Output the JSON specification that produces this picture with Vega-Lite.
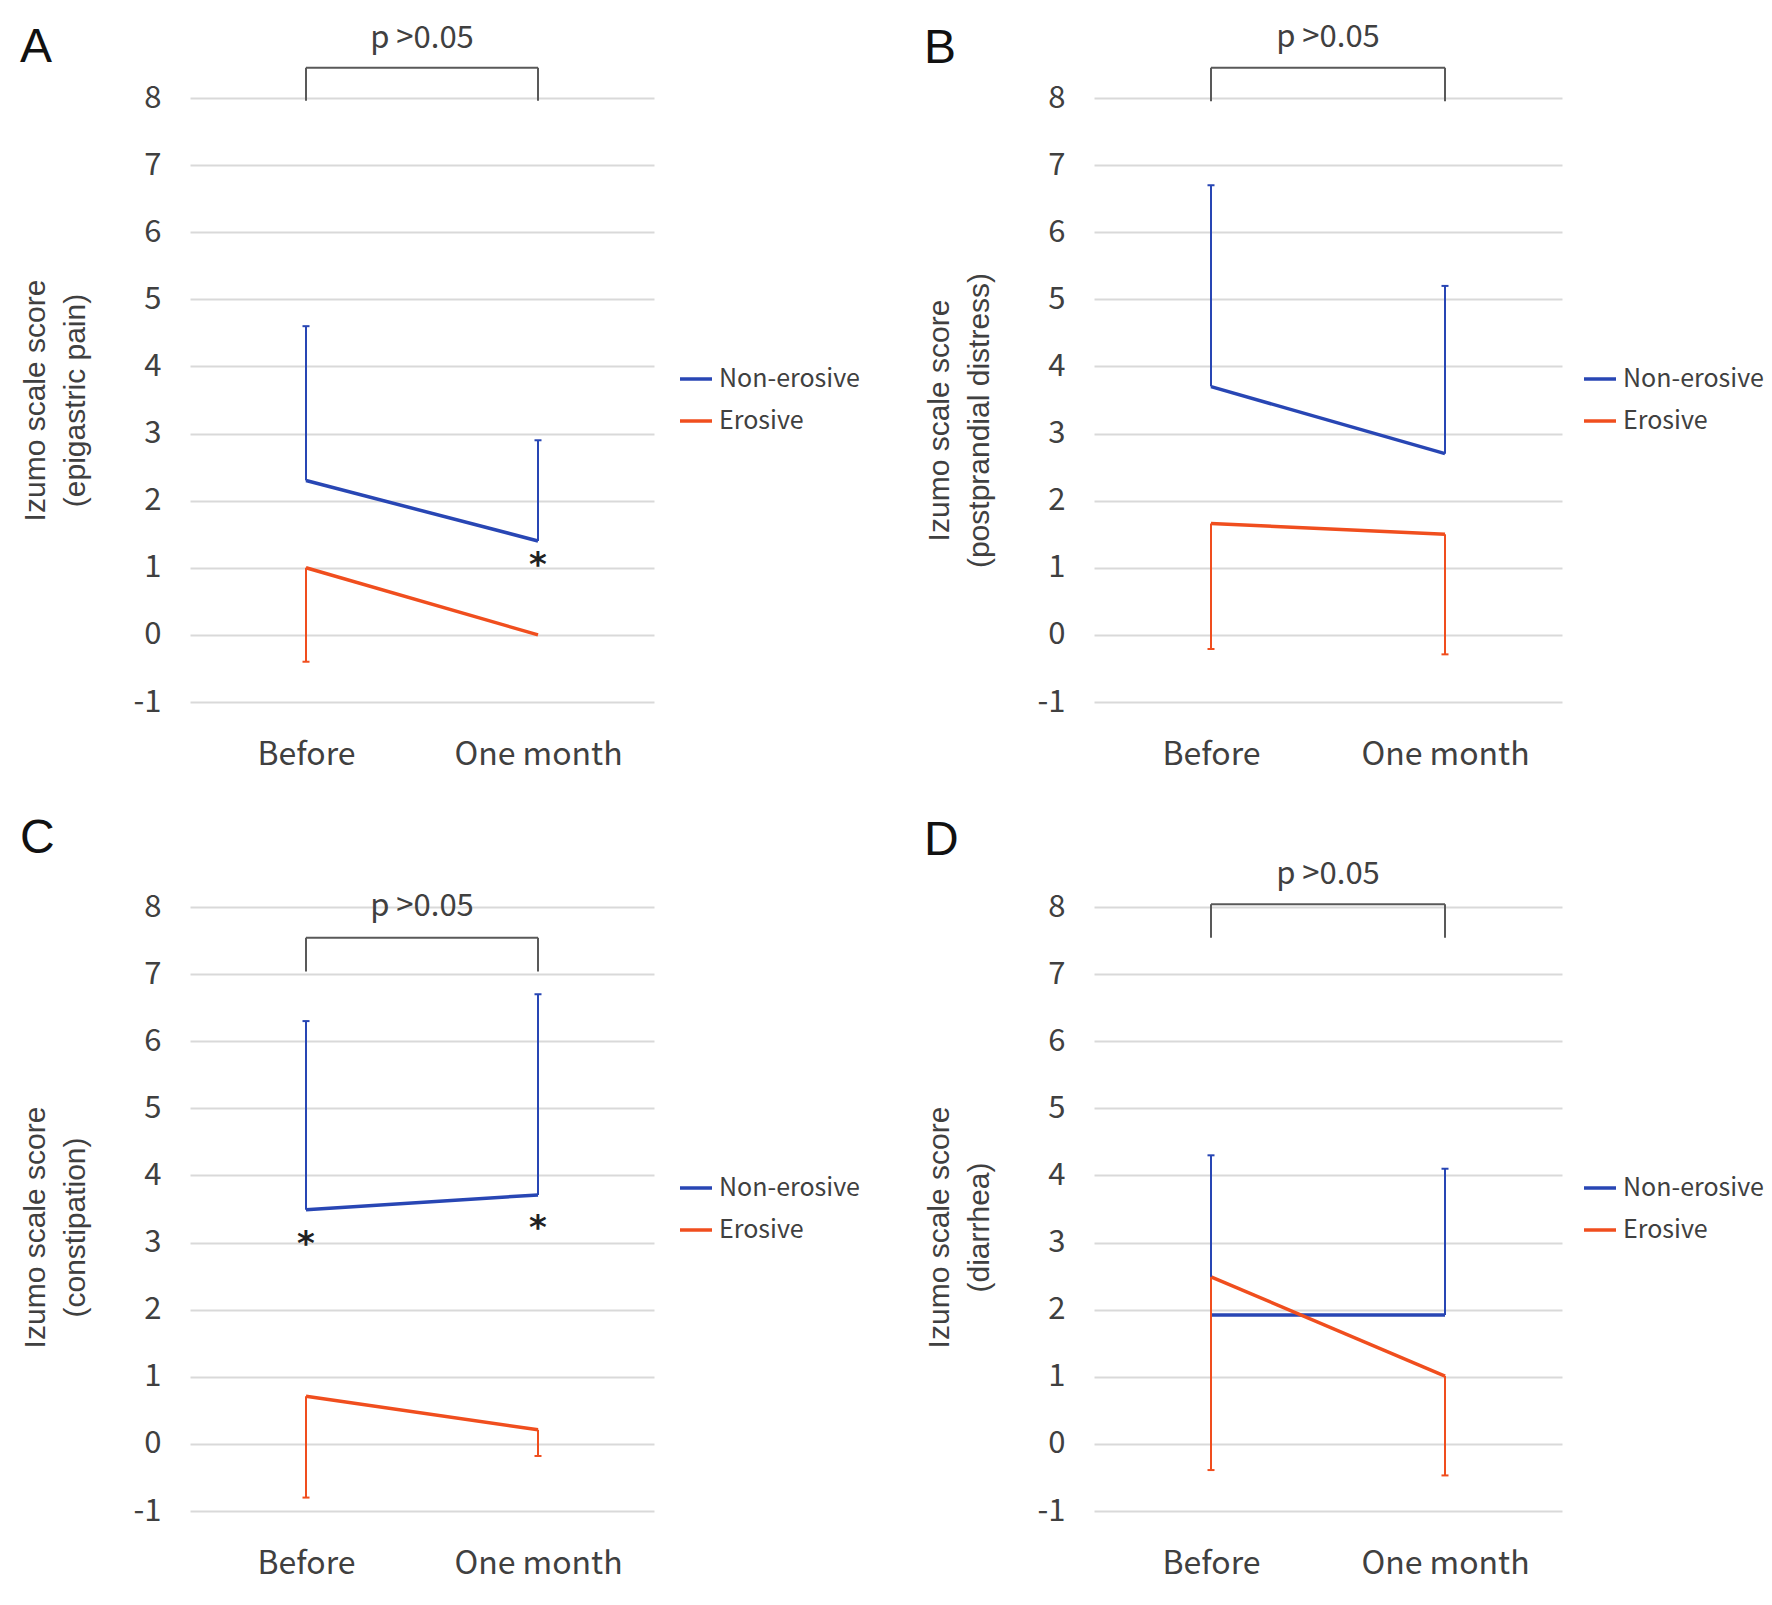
{
  "$schema": "https://vega.github.io/schema/vega-lite/v6.json",
  "background": "white",
  "padding": {"left": 20, "top": 21, "right": 5, "bottom": 5},
  "columns": 2,
  "bounds": "flush",
  "spacing": {"row": 205, "column": 440},
  "resolve": {
    "scale": {"color": "independent", "x": "independent", "y": "independent"},
    "legend": {"color": "independent"}
  },
  "config": {
    "view": {"stroke": null},
    "axisY": {
      "grid": true, "gridColor": "#D9D9D9", "gridWidth": 2,
      "domain": false, "ticks": false,
      "labelFont": "Noto Sans CJK JP", "labelFontSize": 31, "labelColor": "#404040", "labelPadding": 29,
      "titleFont": "Liberation Sans", "titleFontSize": 30, "titleFontWeight": "normal", "titleColor": "#404040",
      "titleLineHeight": 40, "titleX": -146, "titleBaseline": "alphabetic", "titleAngle": -90, "titleAlign": "center"
    },
    "axisX": {
      "domain": false, "ticks": false, "grid": false, "labelAngle": 0,
      "labelFont": "Noto Sans CJK JP", "labelFontSize": 32, "labelColor": "#404040", "labelPadding": 37
    },
    "legend": {
      "orient": "none", "legendX": 488, "legendY": 263, "padding": 0,
      "symbolType": "stroke", "symbolSize": 1024, "symbolStrokeWidth": 3.5, "symbolOpacity": 1,
      "labelFont": "Noto Sans CJK JP", "labelFontSize": 25, "labelColor": "#404040", "labelOffset": 5, "rowPadding": 11
    },
    "title": {"anchor": "start", "frame": "bounds", "font": "Liberation Sans", "fontSize": 48, "fontWeight": "normal", "color": "#111111", "baseline": "alphabetic"}
  },
  "concat": [
    {
      "width": 464, "height": 604,
      "title": {"text": "A", "offset": 17, "dy": 66},
      "data": {"values": [
        {"group": "Non-erosive", "time": "Before", "mean": 2.3, "bar_end": 4.6},
        {"group": "Non-erosive", "time": "One month", "mean": 1.4, "bar_end": 2.9},
        {"group": "Erosive", "time": "Before", "mean": 1.0, "bar_end": -0.4},
        {"group": "Erosive", "time": "One month", "mean": 0.0, "bar_end": null}
      ]},
      "encoding": {
        "x": {"field": "time", "type": "nominal", "scale": {"type": "point", "domain": ["Before", "Before vs One month", "One month"], "padding": 1}, "axis": {"values": ["Before", "One month"], "title": null}},
        "color": {"field": "group", "type": "nominal", "scale": {"domain": ["Non-erosive", "Erosive"], "range": ["#2846B4", "#F04E1E"]}, "legend": {"title": null, "symbolStrokeWidth": 3.5, "symbolOpacity": 1}}
      },
      "layer": [
        {"mark": {"type": "line", "strokeWidth": 3.5},
         "encoding": {"y": {"field": "mean", "type": "quantitative", "scale": {"domain": [-1, 8], "nice": false, "zero": false}, "axis": {"values": [-1, 0, 1, 2, 3, 4, 5, 6, 7, 8], "labelExpr": "'' + datum.value", "title": ["Izumo scale score", "(epigastric pain)"], "titleY": 302}}}},
        {"transform": [{"filter": "isValid(datum.bar_end)"}], "mark": {"type": "rule", "strokeWidth": 2},
         "encoding": {"y": {"field": "mean", "type": "quantitative"}, "y2": {"field": "bar_end"}}},
        {"transform": [{"filter": "isValid(datum.bar_end)"}], "mark": {"type": "tick", "thickness": 2, "size": 7, "opacity": 1},
         "encoding": {"y": {"field": "bar_end", "type": "quantitative"}}},
        {"data": {"values": [{"time": "Before", "time_end": "One month", "mid": "Before vs One month", "bracket_top": 8.45, "bracket_bottom": 7.96, "text_y": 8.75, "label": "p >0.05"}]},
         "layer": [
           {"mark": {"type": "rule", "strokeWidth": 2}, "encoding": {"x": {"field": "time", "type": "nominal"}, "x2": {"field": "time_end"}, "y": {"field": "bracket_top", "type": "quantitative"}, "color": {"value": "#595959"}}},
           {"mark": {"type": "rule", "strokeWidth": 2}, "encoding": {"x": {"field": "time", "type": "nominal"}, "y": {"field": "bracket_top", "type": "quantitative"}, "y2": {"field": "bracket_bottom"}, "color": {"value": "#595959"}}},
           {"mark": {"type": "rule", "strokeWidth": 2}, "encoding": {"x": {"field": "time_end", "type": "nominal"}, "y": {"field": "bracket_top", "type": "quantitative"}, "y2": {"field": "bracket_bottom"}, "color": {"value": "#595959"}}},
           {"mark": {"type": "text", "font": "Noto Sans CJK JP", "fontSize": 31, "baseline": "alphabetic", "align": "center"}, "encoding": {"x": {"field": "mid", "type": "nominal"}, "y": {"field": "text_y", "type": "quantitative"}, "text": {"field": "label"}, "color": {"value": "#404040"}}}
         ]},
        {"data": {"values": [{"time": "One month", "star_y": 0.88, "sig": "*"}]},
         "mark": {"type": "text", "font": "DejaVu Sans", "fontSize": 34, "fontWeight": "bold", "baseline": "alphabetic", "align": "center"},
         "encoding": {"x": {"field": "time", "type": "nominal"}, "y": {"field": "star_y", "type": "quantitative"}, "text": {"field": "sig"}, "color": {"value": "#222222"}}}
      ]
    },
    {
      "width": 468, "height": 604,
      "title": {"text": "B", "offset": 9, "dy": 60},
      "data": {"values": [
        {"group": "Non-erosive", "time": "Before", "mean": 3.7, "bar_end": 6.7},
        {"group": "Non-erosive", "time": "One month", "mean": 2.7, "bar_end": 5.2},
        {"group": "Erosive", "time": "Before", "mean": 1.66, "bar_end": -0.21},
        {"group": "Erosive", "time": "One month", "mean": 1.5, "bar_end": -0.29}
      ]},
      "encoding": {
        "x": {"field": "time", "type": "nominal", "scale": {"type": "point", "domain": ["Before", "Before vs One month", "One month"], "padding": 1}, "axis": {"values": ["Before", "One month"], "title": null}},
        "color": {"field": "group", "type": "nominal", "scale": {"domain": ["Non-erosive", "Erosive"], "range": ["#2846B4", "#F04E1E"]}, "legend": {"title": null, "symbolStrokeWidth": 3.5, "symbolOpacity": 1}}
      },
      "layer": [
        {"mark": {"type": "line", "strokeWidth": 3.5},
         "encoding": {"y": {"field": "mean", "type": "quantitative", "scale": {"domain": [-1, 8], "nice": false, "zero": false}, "axis": {"values": [-1, 0, 1, 2, 3, 4, 5, 6, 7, 8], "labelExpr": "'' + datum.value", "title": ["Izumo scale score", "(postprandial distress)"], "titleY": 322}}}},
        {"transform": [{"filter": "isValid(datum.bar_end)"}], "mark": {"type": "rule", "strokeWidth": 2},
         "encoding": {"y": {"field": "mean", "type": "quantitative"}, "y2": {"field": "bar_end"}}},
        {"transform": [{"filter": "isValid(datum.bar_end)"}], "mark": {"type": "tick", "thickness": 2, "size": 7, "opacity": 1},
         "encoding": {"y": {"field": "bar_end", "type": "quantitative"}}},
        {"data": {"values": [{"time": "Before", "time_end": "One month", "mid": "Before vs One month", "bracket_top": 8.45, "bracket_bottom": 7.95, "text_y": 8.76, "label": "p >0.05"}]},
         "layer": [
           {"mark": {"type": "rule", "strokeWidth": 2}, "encoding": {"x": {"field": "time", "type": "nominal"}, "x2": {"field": "time_end"}, "y": {"field": "bracket_top", "type": "quantitative"}, "color": {"value": "#595959"}}},
           {"mark": {"type": "rule", "strokeWidth": 2}, "encoding": {"x": {"field": "time", "type": "nominal"}, "y": {"field": "bracket_top", "type": "quantitative"}, "y2": {"field": "bracket_bottom"}, "color": {"value": "#595959"}}},
           {"mark": {"type": "rule", "strokeWidth": 2}, "encoding": {"x": {"field": "time_end", "type": "nominal"}, "y": {"field": "bracket_top", "type": "quantitative"}, "y2": {"field": "bracket_bottom"}, "color": {"value": "#595959"}}},
           {"mark": {"type": "text", "font": "Noto Sans CJK JP", "fontSize": 31, "baseline": "alphabetic", "align": "center"}, "encoding": {"x": {"field": "mid", "type": "nominal"}, "y": {"field": "text_y", "type": "quantitative"}, "text": {"field": "label"}, "color": {"value": "#404040"}}}
         ]}
      ]
    },
    {
      "width": 464, "height": 604,
      "title": {"text": "C", "offset": 32, "dy": 4},
      "data": {"values": [
        {"group": "Non-erosive", "time": "Before", "mean": 3.49, "bar_end": 6.3},
        {"group": "Non-erosive", "time": "One month", "mean": 3.71, "bar_end": 6.7},
        {"group": "Erosive", "time": "Before", "mean": 0.71, "bar_end": -0.8},
        {"group": "Erosive", "time": "One month", "mean": 0.21, "bar_end": -0.18}
      ]},
      "encoding": {
        "x": {"field": "time", "type": "nominal", "scale": {"type": "point", "domain": ["Before", "Before vs One month", "One month"], "padding": 1}, "axis": {"values": ["Before", "One month"], "title": null}},
        "color": {"field": "group", "type": "nominal", "scale": {"domain": ["Non-erosive", "Erosive"], "range": ["#2846B4", "#F04E1E"]}, "legend": {"title": null, "symbolStrokeWidth": 3.5, "symbolOpacity": 1}}
      },
      "layer": [
        {"mark": {"type": "line", "strokeWidth": 3.5},
         "encoding": {"y": {"field": "mean", "type": "quantitative", "scale": {"domain": [-1, 8], "nice": false, "zero": false}, "axis": {"values": [-1, 0, 1, 2, 3, 4, 5, 6, 7, 8], "labelExpr": "'' + datum.value", "title": ["Izumo scale score", "(constipation)"], "titleY": 320}}}},
        {"transform": [{"filter": "isValid(datum.bar_end)"}], "mark": {"type": "rule", "strokeWidth": 2},
         "encoding": {"y": {"field": "mean", "type": "quantitative"}, "y2": {"field": "bar_end"}}},
        {"transform": [{"filter": "isValid(datum.bar_end)"}], "mark": {"type": "tick", "thickness": 2, "size": 7, "opacity": 1},
         "encoding": {"y": {"field": "bar_end", "type": "quantitative"}}},
        {"data": {"values": [{"time": "Before", "time_end": "One month", "mid": "Before vs One month", "bracket_top": 7.54, "bracket_bottom": 7.04, "text_y": 7.86, "label": "p >0.05"}]},
         "layer": [
           {"mark": {"type": "rule", "strokeWidth": 2}, "encoding": {"x": {"field": "time", "type": "nominal"}, "x2": {"field": "time_end"}, "y": {"field": "bracket_top", "type": "quantitative"}, "color": {"value": "#595959"}}},
           {"mark": {"type": "rule", "strokeWidth": 2}, "encoding": {"x": {"field": "time", "type": "nominal"}, "y": {"field": "bracket_top", "type": "quantitative"}, "y2": {"field": "bracket_bottom"}, "color": {"value": "#595959"}}},
           {"mark": {"type": "rule", "strokeWidth": 2}, "encoding": {"x": {"field": "time_end", "type": "nominal"}, "y": {"field": "bracket_top", "type": "quantitative"}, "y2": {"field": "bracket_bottom"}, "color": {"value": "#595959"}}},
           {"mark": {"type": "text", "font": "Noto Sans CJK JP", "fontSize": 31, "baseline": "alphabetic", "align": "center"}, "encoding": {"x": {"field": "mid", "type": "nominal"}, "y": {"field": "text_y", "type": "quantitative"}, "text": {"field": "label"}, "color": {"value": "#404040"}}}
         ]},
        {"data": {"values": [{"time": "Before", "star_y": 2.82, "sig": "*"}, {"time": "One month", "star_y": 3.05, "sig": "*"}]},
         "mark": {"type": "text", "font": "DejaVu Sans", "fontSize": 34, "fontWeight": "bold", "baseline": "alphabetic", "align": "center"},
         "encoding": {"x": {"field": "time", "type": "nominal"}, "y": {"field": "star_y", "type": "quantitative"}, "text": {"field": "sig"}, "color": {"value": "#222222"}}}
      ]
    },
    {
      "width": 468, "height": 604,
      "title": {"text": "D", "offset": 32, "dy": 38},
      "data": {"values": [
        {"group": "Non-erosive", "time": "Before", "mean": 1.92, "bar_end": 4.3},
        {"group": "Non-erosive", "time": "One month", "mean": 1.92, "bar_end": 4.1},
        {"group": "Erosive", "time": "Before", "mean": 2.49, "bar_end": -0.39},
        {"group": "Erosive", "time": "One month", "mean": 1.01, "bar_end": -0.47}
      ]},
      "encoding": {
        "x": {"field": "time", "type": "nominal", "scale": {"type": "point", "domain": ["Before", "Before vs One month", "One month"], "padding": 1}, "axis": {"values": ["Before", "One month"], "title": null}},
        "color": {"field": "group", "type": "nominal", "scale": {"domain": ["Non-erosive", "Erosive"], "range": ["#2846B4", "#F04E1E"]}, "legend": {"title": null, "symbolStrokeWidth": 3.5, "symbolOpacity": 1}}
      },
      "layer": [
        {"mark": {"type": "line", "strokeWidth": 3.5},
         "encoding": {"y": {"field": "mean", "type": "quantitative", "scale": {"domain": [-1, 8], "nice": false, "zero": false}, "axis": {"values": [-1, 0, 1, 2, 3, 4, 5, 6, 7, 8], "labelExpr": "'' + datum.value", "title": ["Izumo scale score", "(diarrhea)"], "titleY": 320}}}},
        {"transform": [{"filter": "isValid(datum.bar_end)"}], "mark": {"type": "rule", "strokeWidth": 2},
         "encoding": {"y": {"field": "mean", "type": "quantitative"}, "y2": {"field": "bar_end"}}},
        {"transform": [{"filter": "isValid(datum.bar_end)"}], "mark": {"type": "tick", "thickness": 2, "size": 7, "opacity": 1},
         "encoding": {"y": {"field": "bar_end", "type": "quantitative"}}},
        {"data": {"values": [{"time": "Before", "time_end": "One month", "mid": "Before vs One month", "bracket_top": 8.04, "bracket_bottom": 7.54, "text_y": 8.34, "label": "p >0.05"}]},
         "layer": [
           {"mark": {"type": "rule", "strokeWidth": 2}, "encoding": {"x": {"field": "time", "type": "nominal"}, "x2": {"field": "time_end"}, "y": {"field": "bracket_top", "type": "quantitative"}, "color": {"value": "#595959"}}},
           {"mark": {"type": "rule", "strokeWidth": 2}, "encoding": {"x": {"field": "time", "type": "nominal"}, "y": {"field": "bracket_top", "type": "quantitative"}, "y2": {"field": "bracket_bottom"}, "color": {"value": "#595959"}}},
           {"mark": {"type": "rule", "strokeWidth": 2}, "encoding": {"x": {"field": "time_end", "type": "nominal"}, "y": {"field": "bracket_top", "type": "quantitative"}, "y2": {"field": "bracket_bottom"}, "color": {"value": "#595959"}}},
           {"mark": {"type": "text", "font": "Noto Sans CJK JP", "fontSize": 31, "baseline": "alphabetic", "align": "center"}, "encoding": {"x": {"field": "mid", "type": "nominal"}, "y": {"field": "text_y", "type": "quantitative"}, "text": {"field": "label"}, "color": {"value": "#404040"}}}
         ]}
      ]
    }
  ]
}
